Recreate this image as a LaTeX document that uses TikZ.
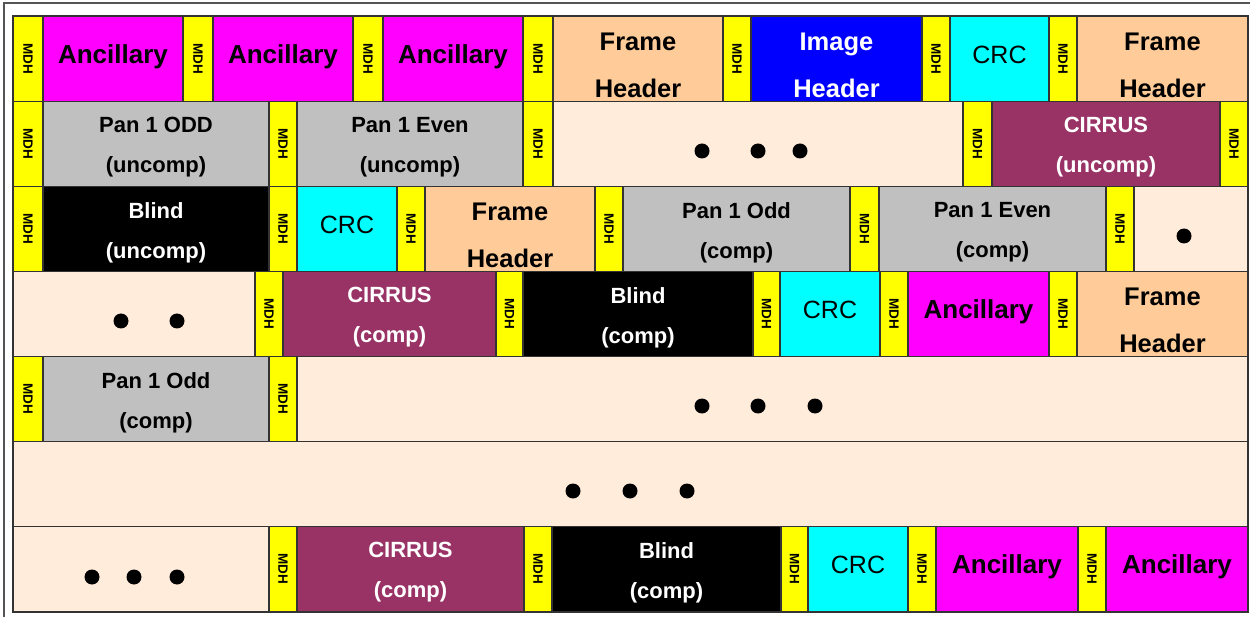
\documentclass[tikz,border=0pt]{standalone}
\usepackage{fontspec}
\setmainfont{Liberation Sans}
\definecolor{yel}{HTML}{FFFF00}
\definecolor{mag}{HTML}{FF00FF}
\definecolor{peach}{HTML}{FFCC99}
\definecolor{lpeach}{HTML}{FFECDB}
\definecolor{blu}{HTML}{0000FF}
\definecolor{cyn}{HTML}{00FFFF}
\definecolor{gry}{HTML}{C0C0C0}
\definecolor{cir}{HTML}{993366}
\definecolor{linec}{HTML}{333333}
\definecolor{framec}{HTML}{555555}
\newcommand\cbox[7]{%
  \pgfmathsetmacro\cw{#3-#2}%
  \node[cellbox,#5,minimum width=\cw pt] (#1) at ({(#2+#3)/2},{#4+42.5}) {};
  \node[#6] (#1t) at (#1.center) {#7};
}
\newcommand\mdh[4]{\cbox{#1}{#2}{#3}{#4}{fill=yel}{mdht}{MDH}}
\tikzset{
  cellbox/.style={rectangle,draw=linec,line width=1.3pt,minimum height=85pt,inner sep=0pt,outer sep=0pt},
  twol/.style={font=\fontsize{22}{40}\selectfont\bfseries,align=center,yshift=-3.5pt,inner sep=0pt},
  hdr/.style={font=\fontsize{25.5}{47}\selectfont\bfseries,align=center,yshift=-6pt,inner sep=0pt},
  anc/.style={font=\fontsize{26}{30}\selectfont\bfseries,yshift=2pt,inner sep=0pt},
  crc/.style={font=\fontsize{25}{30}\selectfont,yshift=4pt,inner sep=0pt},
  mdht/.style={font=\fontsize{13.5}{14}\selectfont\bfseries,rotate=-90,inner sep=0pt},
  wt/.style={text=white},
  dot/.style={fill=black}
}
\begin{document}
\begin{tikzpicture}[x=1pt,y=-1pt]
\useasboundingbox (0,0) rectangle (1250,617);
% outer frame
\draw[framec,line width=1.2pt] (4,620) -- (4,3) -- (1252,3);
% Row 1
\def\r{16.5}
\mdh{a1}{13}{43}{\r}
\cbox{b1}{43}{183}{\r}{fill=mag}{anc}{Ancillary}
\mdh{c1}{183}{213}{\r}
\cbox{d1}{213}{353}{\r}{fill=mag}{anc}{Ancillary}
\mdh{e1}{353}{383}{\r}
\cbox{f1}{383}{523}{\r}{fill=mag}{anc}{Ancillary}
\mdh{g1}{523}{553}{\r}
\cbox{h1}{553}{723}{\r}{fill=peach}{hdr}{Frame\\Header}
\mdh{i1}{723}{751}{\r}
\cbox{j1}{751}{922}{\r}{fill=blu}{hdr,wt}{Image\\Header}
\mdh{k1}{922}{950}{\r}
\cbox{l1}{950}{1049}{\r}{fill=cyn}{crc}{CRC}
\mdh{m1}{1049}{1077}{\r}
\cbox{n1}{1077}{1248}{\r}{fill=peach}{hdr}{Frame\\Header}
% Row 2
\def\r{101.5}
\mdh{a2}{13}{43}{\r}
\cbox{b2}{43}{269}{\r}{fill=gry}{twol}{Pan 1 ODD\\(uncomp)}
\mdh{c2}{269}{297}{\r}
\cbox{d2}{297}{523}{\r}{fill=gry}{twol}{Pan 1 Even\\(uncomp)}
\mdh{e2}{523}{553}{\r}
\cbox{f2}{553}{963}{\r}{fill=lpeach}{}{}
\mdh{g2}{963}{992}{\r}
\cbox{h2}{992}{1220}{\r}{fill=cir}{twol,wt}{CIRRUS\\(uncomp)}
\mdh{i2}{1220}{1248}{\r}
% Row 3
\def\r{186.5}
\mdh{a3}{13}{43}{\r}
\cbox{b3}{43}{269}{\r}{fill=black}{twol,wt}{Blind\\(uncomp)}
\mdh{c3}{269}{297}{\r}
\cbox{d3}{297}{397}{\r}{fill=cyn}{crc}{CRC}
\mdh{e3}{397}{425}{\r}
\cbox{f3}{425}{595}{\r}{fill=peach}{hdr}{Frame\\Header}
\mdh{g3}{595}{623}{\r}
\cbox{h3}{623}{850}{\r}{fill=gry}{twol}{Pan 1 Odd\\(comp)}
\mdh{i3}{850}{879}{\r}
\cbox{j3}{879}{1106}{\r}{fill=gry}{twol}{Pan 1 Even\\(comp)}
\mdh{k3}{1106}{1134}{\r}
\cbox{l3}{1134}{1248}{\r}{fill=lpeach}{}{}
% Row 4
\def\r{271.5}
\cbox{a4}{13}{255}{\r}{fill=lpeach}{}{}
\mdh{b4}{255}{283}{\r}
\cbox{c4}{283}{496}{\r}{fill=cir}{twol,wt}{CIRRUS\\(comp)}
\mdh{d4}{496}{523}{\r}
\cbox{e4}{523}{753}{\r}{fill=black}{twol,wt}{Blind\\(comp)}
\mdh{f4}{753}{780}{\r}
\cbox{g4}{780}{880}{\r}{fill=cyn}{crc}{CRC}
\mdh{h4}{880}{908}{\r}
\cbox{i4}{908}{1049}{\r}{fill=mag}{anc}{Ancillary}
\mdh{j4}{1049}{1077}{\r}
\cbox{k4}{1077}{1248}{\r}{fill=peach}{hdr}{Frame\\Header}
% Row 5
\def\r{356.5}
\mdh{a5}{13}{43}{\r}
\cbox{b5}{43}{269}{\r}{fill=gry}{twol}{Pan 1 Odd\\(comp)}
\mdh{c5}{269}{297}{\r}
\cbox{d5}{297}{1248}{\r}{fill=lpeach}{}{}
% Row 6
\def\r{441.5}
\cbox{a6}{13}{1248}{\r}{fill=lpeach}{}{}
% Row 7
\def\r{526.5}
\cbox{a7}{13}{269}{\r}{fill=lpeach}{}{}
\mdh{b7}{269}{297}{\r}
\cbox{c7}{297}{524}{\r}{fill=cir}{twol,wt}{CIRRUS\\(comp)}
\mdh{d7}{524}{552}{\r}
\cbox{e7}{552}{781}{\r}{fill=black}{twol,wt}{Blind\\(comp)}
\mdh{f7}{781}{808}{\r}
\cbox{g7}{808}{908}{\r}{fill=cyn}{crc}{CRC}
\mdh{h7}{908}{936}{\r}
\cbox{i7}{936}{1078}{\r}{fill=mag}{anc}{Ancillary}
\mdh{j7}{1078}{1106}{\r}
\cbox{k7}{1106}{1248}{\r}{fill=mag}{anc}{Ancillary}
% table border
\draw[linec,line width=2pt] (13,16.5) rectangle (1248,611.5);
% dots
\foreach \x/\y in {702/151,758/151,800/151, 1184/236, 121/321,177/321,
  702/406,758/406,815/406, 573/491,630/491,687/491, 92/577,134/577,177/577}
  \fill[dot] (\x,\y) circle (7.5pt);
\end{tikzpicture}
\end{document}
